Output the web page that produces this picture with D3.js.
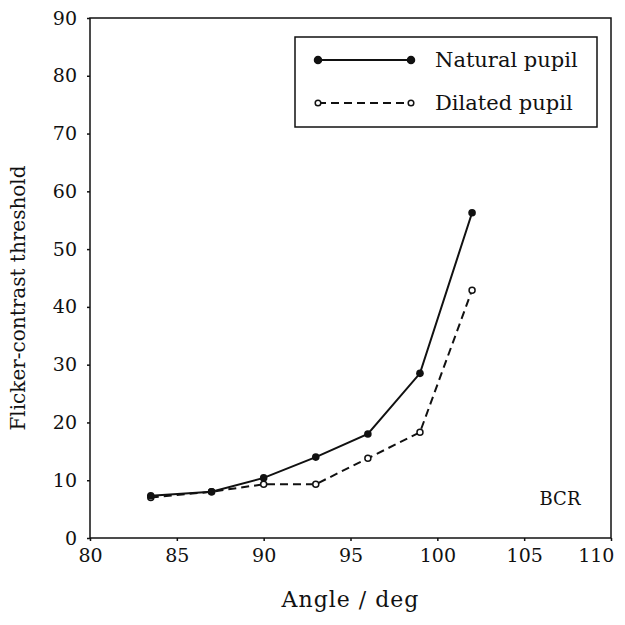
<!DOCTYPE html>
<html>
<head>
<meta charset="utf-8">
<script src="https://cdn.jsdelivr.net/npm/d3@7"></script>
<style>
  body { margin: 0; background: #fff; }
  text { font-family: "DejaVu Serif", serif; fill: #111; }
</style>
</head>
<body>
<div id="chart"></div>
<script>
// Data
const angles = [83.5, 87, 90, 93, 96, 99, 102]
const naturalPupil = [7.3, 8.0, 10.4, 14.0, 18.0, 28.5, 56.3]
const dilatedPupil = [7.0, 8.0, 9.3, 9.3, 13.8, 18.3, 42.9]
const xTicks = [80, 85, 90, 95, 100, 105, 110]
const yTicks = [0, 10, 20, 30, 40, 50, 60, 70, 80, 90]

const width = 625
const height = 625
const margin = { top: 18, right: 14, bottom: 87, left: 90 }

const svg = d3.select("#chart")
  .append("svg")
  .attr("width", width)
  .attr("height", height)

const x = d3.scaleLinear().domain([80, 110]).range([margin.left, width - margin.right])
const y = d3.scaleLinear().domain([0, 90]).range([height - margin.bottom, margin.top])

// Plot frame
svg.append("rect")
  .attr("x", x(80))
  .attr("y", y(90))
  .attr("width", x(110) - x(80))
  .attr("height", y(0) - y(90))
  .attr("fill", "none")
  .attr("stroke", "#111")
  .attr("stroke-width", 1.5)

// Axes
const xAxis = svg.append("g")
  .attr("transform", `translate(0,${y(0)})`)
  .call(d3.axisBottom(x).tickValues(xTicks).tickSize(3).tickPadding(8))
const yAxis = svg.append("g")
  .attr("transform", `translate(${x(80)},0)`)
  .call(d3.axisLeft(y).tickValues(yTicks).tickSize(3).tickPadding(10))

;[xAxis, yAxis].forEach((g) => {
  g.select(".domain").remove()
  g.selectAll("line").attr("stroke", "#111").attr("stroke-width", 1.5)
  g.selectAll("text").style("font-size", "19px").style("font-family", "DejaVu Serif")
})
// last label would run off the page: pull it in like the original
xAxis.selectAll(".tick text")
  .filter((d) => d === 110)
  .attr("text-anchor", "end")
  .attr("dx", "1.1em")
  .attr("x", -18)

// Axis titles
svg.append("text")
  .attr("x", (x(80) + x(110)) / 2)
  .attr("y", 607)
  .attr("text-anchor", "middle")
  .style("font-size", "22px")
  .style("letter-spacing", "1px")
  .text("Angle / deg")

svg.append("text")
  .attr("transform", `translate(25,${(y(0) + y(90)) / 2 + 20}) rotate(-90)`)
  .attr("text-anchor", "middle")
  .style("font-size", "20px")
  .text("Flicker-contrast threshold")

// Series
const line = d3.line().x((d) => x(d[0])).y((d) => y(d[1]))
const natural = angles.map((a, i) => [a, naturalPupil[i]])
const dilated = angles.map((a, i) => [a, dilatedPupil[i]])

svg.append("path")
  .datum(dilated)
  .attr("d", line)
  .attr("fill", "none")
  .attr("stroke", "#111")
  .attr("stroke-width", 2)
  .attr("stroke-dasharray", "8,5")

svg.append("path")
  .datum(natural)
  .attr("d", line)
  .attr("fill", "none")
  .attr("stroke", "#111")
  .attr("stroke-width", 2)

svg.selectAll("circle.dil")
  .data(dilated)
  .enter()
  .append("circle")
  .attr("class", "dil")
  .attr("cx", (d) => x(d[0]))
  .attr("cy", (d) => y(d[1]))
  .attr("r", 3)
  .attr("fill", "#fff")
  .attr("stroke", "#111")
  .attr("stroke-width", 1.5)

svg.selectAll("circle.nat")
  .data(natural)
  .enter()
  .append("circle")
  .attr("class", "nat")
  .attr("cx", (d) => x(d[0]))
  .attr("cy", (d) => y(d[1]))
  .attr("r", 3.8)
  .attr("fill", "#111")

// Legend
const legend = svg.append("g").attr("transform", "translate(295,37)")
legend.append("rect")
  .attr("width", 302)
  .attr("height", 90)
  .attr("fill", "#fff")
  .attr("stroke", "#111")
  .attr("stroke-width", 1.5)

const items = [
  { name: "Natural pupil", dash: null, filled: true, yy: 23 },
  { name: "Dilated pupil", dash: "8,5", filled: false, yy: 66 }
]
items.forEach((it) => {
  legend.append("line")
    .attr("x1", 23).attr("x2", 116)
    .attr("y1", it.yy).attr("y2", it.yy)
    .attr("stroke", "#111")
    .attr("stroke-width", 2)
    .attr("stroke-dasharray", it.dash)
  ;[23, 116].forEach((cx) => {
    legend.append("circle")
      .attr("cx", cx).attr("cy", it.yy)
      .attr("r", it.filled ? 3.5 : 2.8)
      .attr("fill", it.filled ? "#111" : "#fff")
      .attr("stroke", "#111")
      .attr("stroke-width", 1.5)
  })
  legend.append("text")
    .attr("x", 140)
    .attr("y", it.yy + 7)
    .style("font-size", "21px")
    .text(it.name)
})

svg.append("text")
  .attr("x", 560)
  .attr("y", 505)
  .attr("text-anchor", "middle")
  .style("font-size", "18px")
  .text("BCR")
</script>
</body>
</html>
